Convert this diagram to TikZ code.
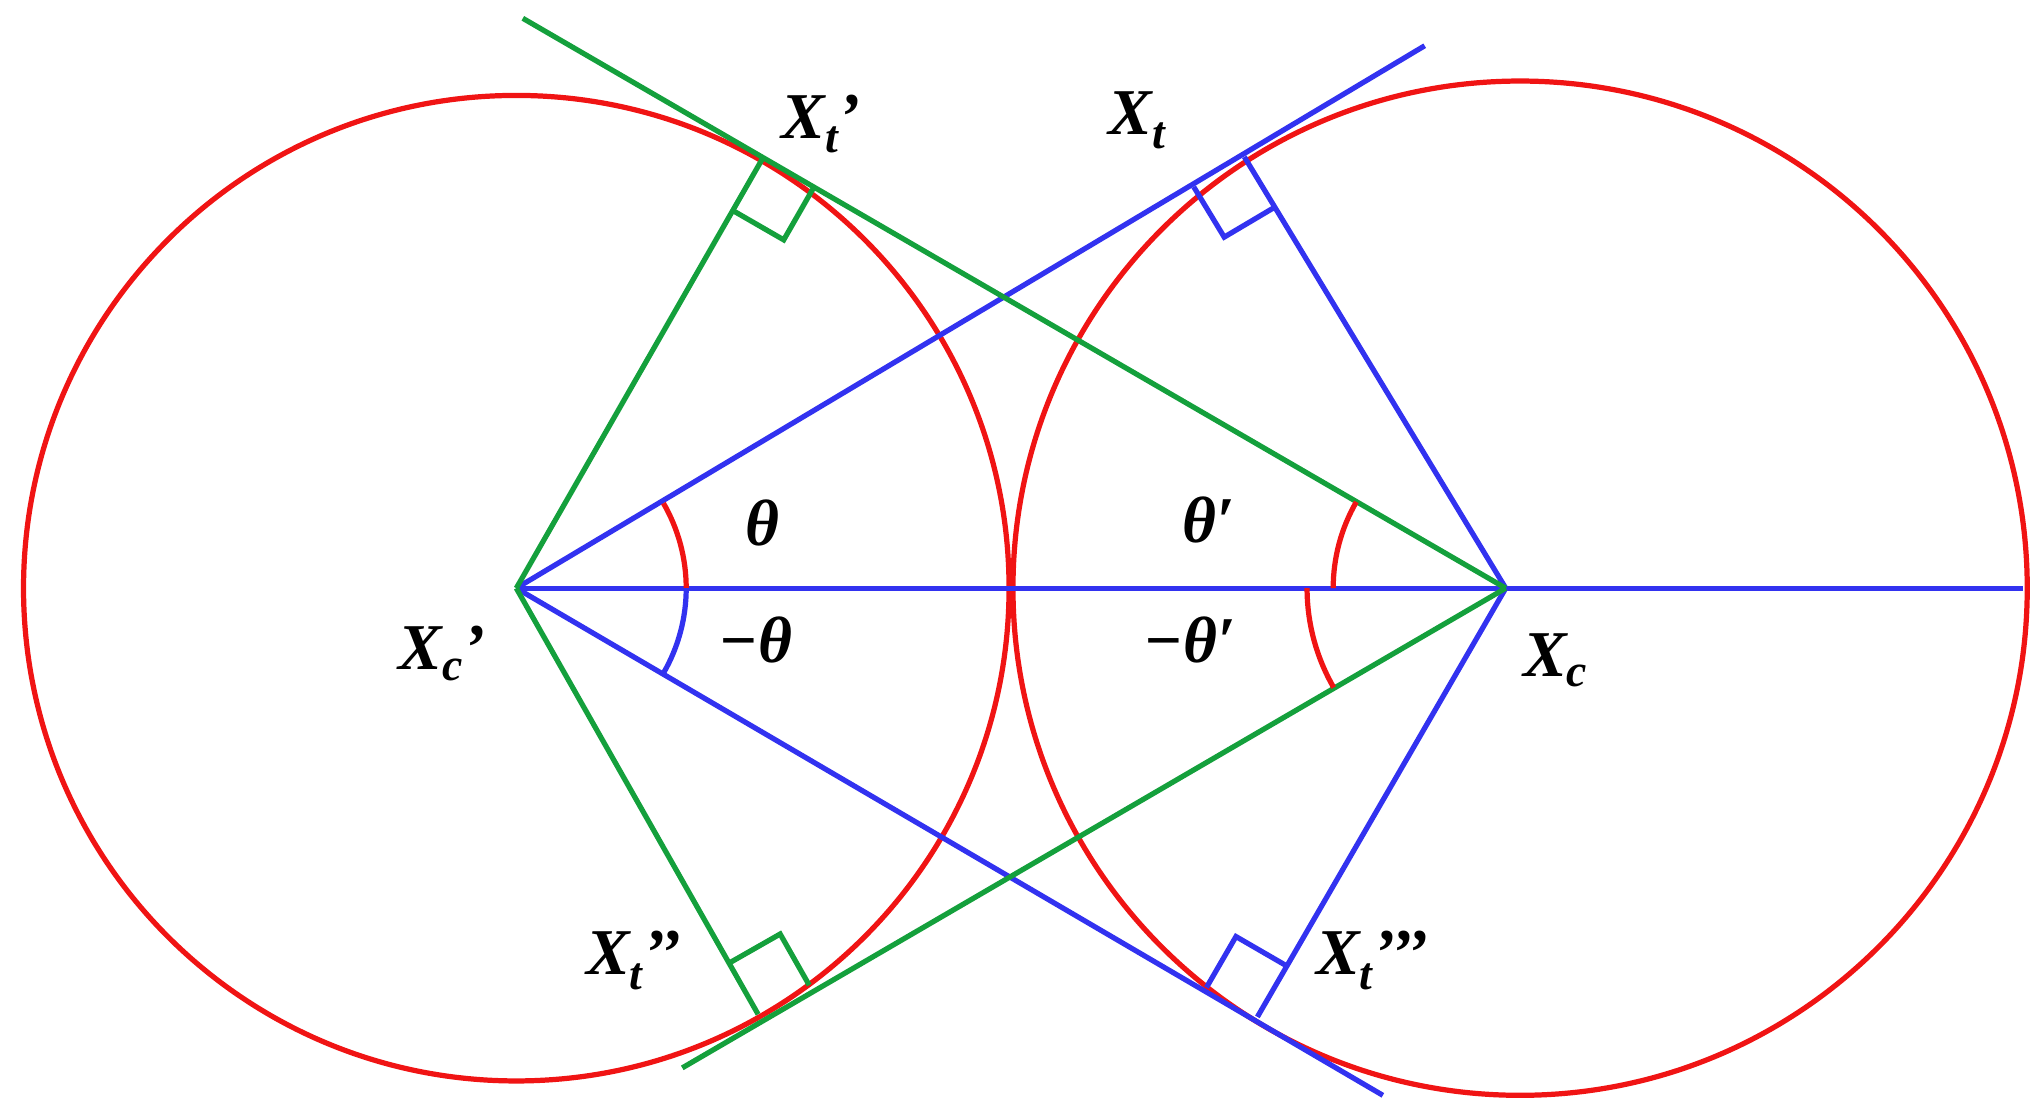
\documentclass[tikz,border=0pt]{standalone}
\usetikzlibrary{calc}
\usepackage{fontspec}
\setmainfont{Liberation Serif}
\begin{document}
\begin{tikzpicture}[x=1pt,y=-1pt,line width=4pt,
 red/.style={draw={rgb,255:red,240;green,20;blue,20}},
 blu/.style={draw={rgb,255:red,50;green,50;blue,240}},
 grn/.style={draw={rgb,255:red,20;green,160;blue,60}},
 lab/.style={font=\fontsize{50}{55}\selectfont\bfseries\itshape}]
\useasboundingbox (0,0) rectangle (1560,854);
\coordinate (Cl) at (395,450);
\coordinate (Cr) at (1163,450);
\coordinate (Xcp) at (395,450);
\coordinate (Xc) at (1152,450);
\coordinate (Xt) at (952,120);
\coordinate (Xtp) at (583,122);
\coordinate (Xtpp) at (580,776);
\coordinate (Xtppp) at (962,778);
\coordinate (B1) at (1090,35);
\coordinate (B2) at (1058,838);
\coordinate (G1) at (400,14);
\coordinate (G2) at (522,817);
\coordinate (E) at (1548,450);
\draw[red] (Cl) circle (377);
\draw[red] (Cr) circle (388);
\draw[blu] (Xcp) -- (E);
\draw[blu] (Xcp) -- (B1);
\draw[blu] (Xcp) -- (B2);
\draw[blu] (Xc) -- (Xt);
\draw[blu] (Xc) -- (Xtppp);
\draw[grn] (G1) -- (Xc);
\draw[grn] (G2) -- (Xc);
\draw[grn] (Xcp) -- (Xtp);
\draw[grn] (Xcp) -- (Xtpp);
% right angles
\foreach \P/\A/\B/\s in {Xt/Xcp/Xc/blu, Xtppp/Xcp/Xc/blu, Xtp/Xc/Xcp/grn, Xtpp/Xc/Xcp/grn}{
 \draw[\s] ($(\P)!45pt!(\A)$) -- ($($(\P)!45pt!(\A)$)+($(\P)!45pt!(\B)$)-(\P)$) -- ($(\P)!45pt!(\B)$);
}
% angle arcs
\draw[red] ($(Xcp)+(130,0)$) arc[start angle=0,end angle=-30,radius=130];
\draw[blu] ($(Xcp)+(130,0)$) arc[start angle=0,end angle=30,radius=130];
\draw[red] ($(Xc)+(-132,0)$) arc[start angle=180,end angle=210,radius=132];
\draw[red] ($(Xc)+(-152,0)$) arc[start angle=180,end angle=150,radius=152];
\node[lab] (l1) at (628,95) {X\textsubscript{\itshape t}’};
\node[lab] (l2) at (870,92) {X\textsubscript{\itshape t}};
\node[lab] (l3) at (338,500) {X\textsubscript{\itshape c}’};
\node[lab] (l4) at (1190,505) {X\textsubscript{\itshape c}};
\node[lab] (l5) at (485,735) {X\textsubscript{\itshape t}’’};
\node[lab] (l6) at (1050,735) {X\textsubscript{\itshape t}’’’};
\node[lab] (t1) at (583,400) {θ};
\node[lab] (t2) at (925,398) {θ′};
\node[lab] (t3) at (578,490) {−θ};
\node[lab] (t4) at (910,490) {−θ′};
\end{tikzpicture}
\end{document}
